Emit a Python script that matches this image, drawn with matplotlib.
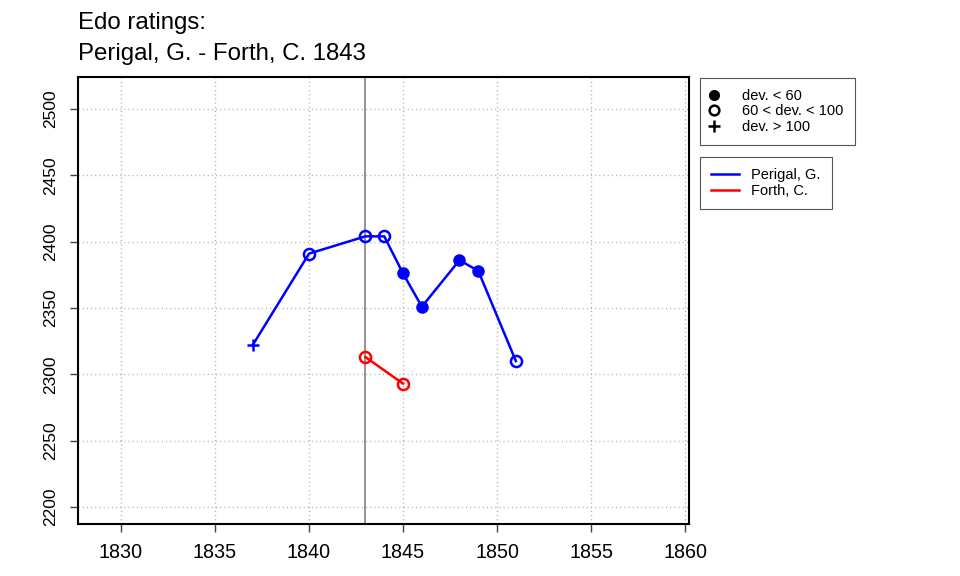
import matplotlib
matplotlib.use("Agg")
import matplotlib.pyplot as plt
from matplotlib.lines import Line2D

plt.rcParams['font.family'] = ['Liberation Sans', 'DejaVu Sans']

perigal_years = [1837, 1840, 1843, 1844, 1845, 1846, 1848, 1849, 1851]
perigal_ratings = [2322, 2391, 2404, 2404, 2376, 2351, 2386, 2378, 2310]
perigal_dev = ['high', 'mid', 'mid', 'mid', 'low', 'low', 'low', 'low', 'mid']

forth_years = [1843, 1845]
forth_ratings = [2313, 2293]
forth_dev = ['mid', 'mid']

match_year = 1843
xticks = [1830, 1835, 1840, 1845, 1850, 1855, 1860]
yticks = [2200, 2250, 2300, 2350, 2400, 2450, 2500]

fig = plt.figure(figsize=(9.6, 5.76), dpi=100)
ax = fig.add_axes([78/960, 52/576, 611/960, 447/576])

ax.set_xlim(1827.71, 1860.21)
ax.set_ylim(2187.2, 2524.1)

for x in xticks:
    ax.axvline(x, color='#b0b0b0', linestyle=(0, (0.8, 2.2)), linewidth=1, zorder=0)
for y in yticks:
    ax.axhline(y, color='#b0b0b0', linestyle=(0, (0.8, 2.2)), linewidth=1, zorder=0)

ax.axvline(match_year, color='#808080', linewidth=1.2, zorder=1)

def draw(years, ratings, devs, color):
    ax.plot(years, ratings, color=color, linewidth=1.8, zorder=2)
    for x, y, d in zip(years, ratings, devs):
        if d == 'low':
            ax.plot(x, y, 'o', color=color, markersize=8, zorder=3)
        elif d == 'mid':
            ax.plot(x, y, 'o', markerfacecolor='none', markeredgecolor=color,
                    markeredgewidth=1.8, markersize=8, zorder=3)
        else:
            ax.plot(x, y, '+', color=color, markersize=9, markeredgewidth=1.8, zorder=3)

draw(perigal_years, perigal_ratings, perigal_dev, 'blue')
draw(forth_years, forth_ratings, forth_dev, 'red')

ax.set_xticks(xticks)
ax.set_yticks(yticks)
ax.set_xticklabels([str(v) for v in xticks], fontsize=14.2)
ax.set_yticklabels([str(v) for v in yticks], fontsize=12.5, rotation=90, va='center')
ax.tick_params(axis='x', direction='out', length=6, width=1, pad=7.5, color='#404040')
ax.tick_params(axis='y', direction='out', length=6, width=1, pad=8.5, color='#404040')
for s in ax.spines.values():
    s.set_linewidth(1.5)

fig.text(78/960, 1 - 29/576, 'Edo ratings:', fontsize=17.3, va='baseline', ha='left')
fig.text(78/960, 1 - 60/576, 'Perigal, G. - Forth, C. 1843', fontsize=17.3, va='baseline', ha='left')

h1 = [Line2D([], [], linestyle='none', marker='o', color='black', markersize=7),
      Line2D([], [], linestyle='none', marker='o', markerfacecolor='none', markeredgecolor='black', markeredgewidth=1.8, markersize=7),
      Line2D([], [], linestyle='none', marker='+', color='black', markersize=9, markeredgewidth=1.8)]
leg1 = fig.legend(h1, ['dev. < 60', '60 < dev. < 100', 'dev. > 100'],
                  loc='upper left', bbox_to_anchor=(700/960, 1 - 78/576),
                  fontsize=10.5, frameon=True, fancybox=False, framealpha=1,
                  edgecolor='#555555', borderpad=0.75, labelspacing=0.1,
                  handlelength=0.4, handletextpad=1.75, borderaxespad=0)
leg1.get_frame().set_linewidth(0.8)

h2 = [Line2D([], [], color='blue', linewidth=1.8),
      Line2D([], [], color='red', linewidth=1.8)]
leg2 = fig.legend(h2, ['Perigal, G.', 'Forth, C.'],
                  loc='upper left', bbox_to_anchor=(700/960, 1 - 157/576),
                  fontsize=10.5, frameon=True, fancybox=False, framealpha=1,
                  edgecolor='#555555', borderpad=0.75, labelspacing=0.15,
                  handlelength=1.92, handletextpad=0.85, borderaxespad=0)
leg2.get_frame().set_linewidth(0.8)

fig.savefig('out.png', dpi=100)
